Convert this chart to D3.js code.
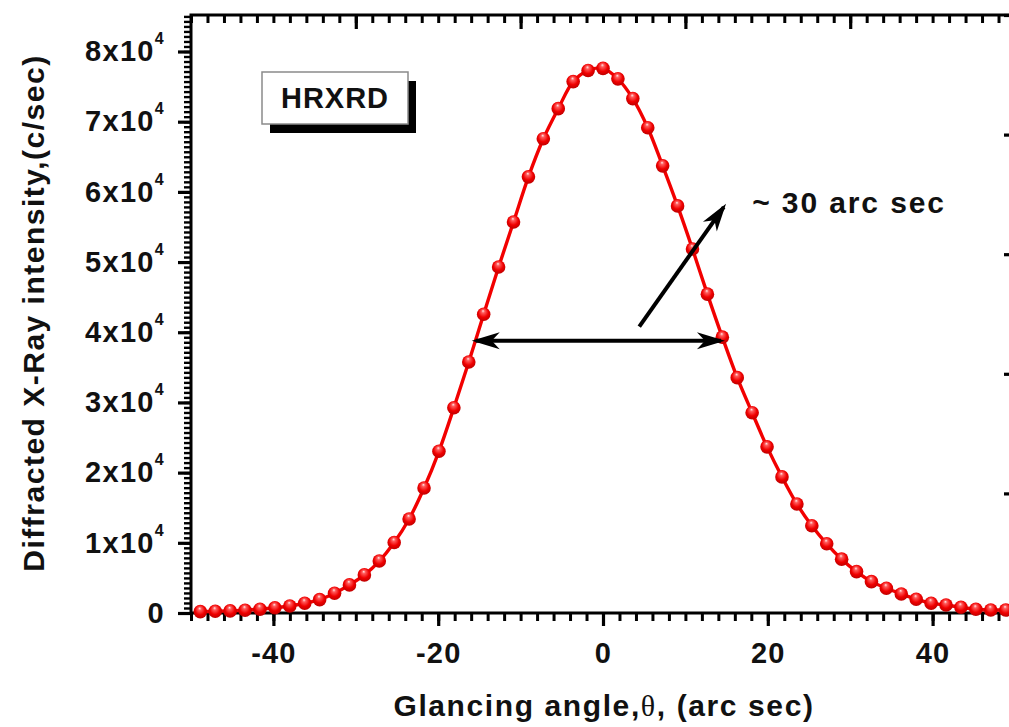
<!DOCTYPE html>
<html>
<head>
<meta charset="utf-8">
<script src="https://cdn.jsdelivr.net/npm/d3@7"></script>
<style>
  html, body { margin: 0; padding: 0; background: #fff; overflow: hidden; }
  svg { display: block; }
  text { font-family: "Liberation Sans", Arial, Helvetica, sans-serif; font-weight: bold; fill: #111; }
</style>
</head>
<body>
<script>
// ---------------- data ----------------
const angles = [-48.87, -47.06, -45.25, -43.44, -41.63, -39.82, -38.01, -36.20, -34.39, -32.58,
  -30.77, -28.96, -27.15, -25.34, -23.53, -21.72, -19.91, -18.10, -16.29, -14.48,
  -12.67, -10.86, -9.05, -7.24, -5.43, -3.62, -1.81, 0,
  1.81, 3.62, 5.43, 7.24, 9.05, 10.86, 12.67, 14.48, 16.29, 18.10,
  19.91, 21.72, 23.53, 25.34, 27.15, 28.96, 30.77, 32.58, 34.39, 36.20,
  38.01, 39.82, 41.63, 43.44, 45.25, 47.06, 48.87];
const intensity = [190, 240, 300, 400, 540, 740, 1000, 1390, 1900, 2810,
  4000, 5430, 7400, 10040, 13390, 17810, 23040, 29240, 35760, 42570,
  49290, 55710, 62140, 67570, 71860, 75710, 77300, 77600,
  76100, 73290, 69140, 63710, 58000, 51860, 45430, 39300, 33530, 28530,
  23670, 19390, 15530, 12430, 9860, 7670, 5900, 4470, 3530, 2710,
  1960, 1390, 1140, 810, 530, 430, 430];
const xTicks = [-40, -20, 0, 20, 40];
const xTopTicks = [-30, -10, 10, 30];
const yTicks = [0, 10000, 20000, 30000, 40000, 50000, 60000, 70000, 80000];
const yTickLabels = ["0", "1x10", "2x10", "3x10", "4x10", "5x10", "6x10", "7x10", "8x10"];
const yExponent = "4";
const xTitle = "Glancing angle,";
const yTitle = "Diffracted X-Ray intensity,(c/sec)";
const boxLabel = "HRXRD";
const fwhmLabel = "~ 30 arc sec";
// annotation arrows in data coordinates: [x1, y1, x2, y2]
const fwhmArrow = [-15.93, 38800, 14.8, 38800];
const pointerArrow = [4.4, 40800, 14.93, 58300];
const fwhmLabelPos = [18.1, 57000];

// ---------------- layout ----------------
const W = 1009, H = 727;
const L = 191, R = 1015, T = 15, B = 613;

const svg = d3.select("body").append("svg").attr("width", W).attr("height", H);

const x = d3.scaleLinear().domain([-50, 50]).range([L, R]);
const y = d3.scaleLinear().domain([0, 85200]).range([B, T]);
const yRight = d3.scaleLinear().domain([0, 5]).range([B, T]);

const defs = svg.append("defs");
const grad = defs.append("radialGradient").attr("id", "ball")
  .attr("cx", "50%").attr("cy", "45%").attr("r", "60%").attr("fx", "45%").attr("fy", "25%");
grad.append("stop").attr("offset", "0%").attr("stop-color", "#ffeaea");
grad.append("stop").attr("offset", "20%").attr("stop-color", "#ff5c5c");
grad.append("stop").attr("offset", "60%").attr("stop-color", "#f00000");
grad.append("stop").attr("offset", "100%").attr("stop-color", "#b40000");

defs.append("marker").attr("id", "head")
  .attr("markerUnits", "userSpaceOnUse")
  .attr("viewBox", "-28 -11 34 22")
  .attr("refX", 0).attr("refY", 0)
  .attr("markerWidth", 34).attr("markerHeight", 22)
  .attr("orient", "auto-start-reverse")
  .append("path").attr("d", "M4,0 L-24,-8.5 L-16,0 L-24,8.5 Z").attr("fill", "#000");

// ---------------- axes ----------------
function styleAxis(g, w) {
  g.select(".domain").remove();
  g.selectAll(".tick line").attr("stroke", "#000").attr("stroke-width", w);
}

// bottom: minor + major, outward
svg.append("g").attr("transform", `translate(0,${B})`)
  .call(d3.axisBottom(x).tickValues(d3.range(-50, 50.1, 2)).tickSize(8).tickSizeOuter(0).tickFormat(""))
  .call(g => styleAxis(g, 3));
svg.append("g").attr("transform", `translate(0,${B})`)
  .call(d3.axisBottom(x).tickValues(xTicks).tickSize(13).tickSizeOuter(0).tickPadding(16).tickFormat(d3.format("d")))
  .call(g => styleAxis(g, 3.2))
  .call(g => g.selectAll(".tick text").attr("font-size", 29).attr("letter-spacing", 1.2)
    .attr("fill", "#111").attr("font-family", "Liberation Sans, Arial, sans-serif").attr("font-weight", "bold")
    .text(d => d < 0 ? "-" + Math.abs(d) : d));

// top: inward
svg.append("g").attr("transform", `translate(0,${T})`)
  .call(d3.axisTop(x).tickValues(d3.range(-50, 50.1, 2)).tickSize(-8).tickSizeOuter(0).tickFormat(""))
  .call(g => styleAxis(g, 3));
svg.append("g").attr("transform", `translate(0,${T})`)
  .call(d3.axisTop(x).tickValues(xTopTicks).tickSize(-14).tickSizeOuter(0).tickFormat(""))
  .call(g => styleAxis(g, 3.2));

// left: outward, dense minor
svg.append("g").attr("transform", `translate(${L},0)`)
  .call(d3.axisLeft(y).tickValues(d3.range(0, 85001, 10000 / 14)).tickSize(7).tickSizeOuter(0).tickFormat(""))
  .call(g => styleAxis(g, 2.4));
svg.append("g").attr("transform", `translate(${L},0)`)
  .call(d3.axisLeft(y).tickValues(yTicks).tickSize(13).tickSizeOuter(0).tickPadding(13).tickFormat((d, i) => yTickLabels[i]))
  .call(g => styleAxis(g, 3.2))
  .call(g => g.selectAll(".tick text").attr("font-size", 29).attr("letter-spacing", 1.3)
    .attr("fill", "#111").attr("font-family", "Liberation Sans, Arial, sans-serif").attr("font-weight", "bold")
    .each(function (d) {
      if (d !== 0) {
        d3.select(this).append("tspan").attr("dy", -17).attr("font-size", 16).text(yExponent);
      }
    }));

// right: inward, separate scale
svg.append("g").attr("transform", `translate(${R},0)`)
  .call(d3.axisRight(yRight).tickValues(d3.range(0, 5.001, 0.1)).tickSize(-2.5).tickSizeOuter(0).tickFormat(""))
  .call(g => styleAxis(g, 2));
svg.append("g").attr("transform", `translate(${R},0)`)
  .call(d3.axisRight(yRight).tickValues(d3.range(0, 6, 1)).tickSize(-11).tickSizeOuter(0).tickFormat(""))
  .call(g => styleAxis(g, 3.2));

// frame
svg.append("rect").attr("x", L).attr("y", T).attr("width", R - L).attr("height", B - T)
  .attr("fill", "none").attr("stroke", "#000").attr("stroke-width", 3);

// ---------------- titles ----------------
const xt = svg.append("text").attr("x", 604).attr("y", 716)
  .attr("text-anchor", "middle").attr("font-size", 30).attr("letter-spacing", 1.6).text(xTitle);
xt.append("tspan").attr("font-family", "Liberation Serif, Times New Roman, serif").attr("font-weight", "normal").text("\u03B8");
xt.append("tspan").text(", (arc sec)");

svg.append("text").attr("transform", `translate(44,313) rotate(-90)`)
  .attr("text-anchor", "middle").attr("font-size", 30).attr("letter-spacing", 1.5).text(yTitle);

// ---------------- series ----------------
const pts = angles.map((a, i) => [a, intensity[i]]);
svg.append("path").datum(pts)
  .attr("fill", "none").attr("stroke", "#f20000").attr("stroke-width", 3.4)
  .attr("d", d3.line().x(d => x(d[0])).y(d => y(d[1])).curve(d3.curveCatmullRom.alpha(0.5)));

svg.append("g").selectAll("circle").data(pts).join("circle")
  .attr("cx", d => x(d[0])).attr("cy", d => y(d[1])).attr("r", 6.8)
  .attr("fill", "url(#ball)");

// ---------------- annotations ----------------
function arrow(a, both) {
  const x1 = x(a[0]), y1 = y(a[1]), x2 = x(a[2]), y2 = y(a[3]);
  const len = Math.hypot(x2 - x1, y2 - y1), ux = (x2 - x1) / len, uy = (y2 - y1) / len;
  const s = 4;
  const ax = both ? x1 + ux * s : x1, ay = both ? y1 + uy * s : y1;
  const p = svg.append("line").attr("x1", ax).attr("y1", ay)
    .attr("x2", x2 - ux * s).attr("y2", y2 - uy * s)
    .attr("stroke", "#000").attr("stroke-width", 4)
    .attr("marker-end", "url(#head)");
  if (both) p.attr("marker-start", "url(#head)");
}
arrow(fwhmArrow, true);
arrow(pointerArrow, false);

svg.append("text").attr("x", x(fwhmLabelPos[0])).attr("y", y(fwhmLabelPos[1]))
  .attr("font-size", 30).attr("letter-spacing", 1.9).text(fwhmLabel);

// HRXRD box with shadow
const bx = 262, by = 72, bw = 146, bh = 52;
svg.append("rect").attr("x", bx + 8).attr("y", by + 9).attr("width", bw).attr("height", bh).attr("fill", "#000");
svg.append("rect").attr("x", bx).attr("y", by).attr("width", bw).attr("height", bh)
  .attr("fill", "#fff").attr("stroke", "#8a8a8a").attr("stroke-width", 1.5);
svg.append("text").attr("x", bx + bw / 2).attr("y", by + 36).attr("text-anchor", "middle")
  .attr("font-size", 29).attr("letter-spacing", 1).text(boxLabel);
</script>
</body>
</html>
